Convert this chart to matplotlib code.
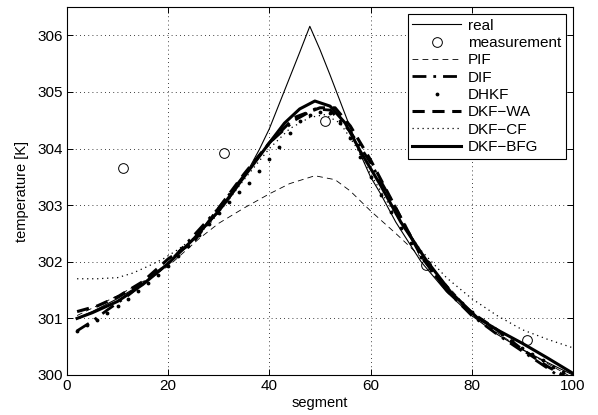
"""
Temperature estimates along the segment: true profile, measurements and
several distributed filtering schemes.
"""

import matplotlib

matplotlib.use("Agg")
import matplotlib.pyplot as plt
import numpy as np

# real temperature profile
real_x = [2, 5, 10, 15, 20, 25, 28, 30, 32, 34, 36, 38, 40, 42, 44, 46, 48, 50, 52, 55,
          58, 60, 62, 65, 70, 75, 80, 85, 90, 95, 100]
real_y = [301.0, 301.12, 301.35, 301.62, 301.95, 302.4, 302.68, 302.88, 303.1, 303.35,
          303.65, 303.98, 304.35, 304.8, 305.25, 305.7, 306.16, 305.75, 305.3, 304.6,
          303.9, 303.5, 303.2, 302.7, 302.0, 301.47, 301.05, 300.72, 300.45, 300.22, 300.0]

# measurements
meas_x = [11, 31, 51, 71, 91]
meas_y = [303.66, 303.92, 304.48, 301.95, 300.61]

# PIF
pif_x = [2, 10, 15, 20, 26, 30, 35, 40, 44, 49, 53, 56, 60, 65, 70, 75, 80, 85, 90, 95, 100]
pif_y = [301.05, 301.4, 301.65, 301.92, 302.4, 302.68, 302.95, 303.2, 303.38, 303.52,
         303.45, 303.25, 302.9, 302.5, 302.08, 301.6, 301.1, 300.75, 300.45, 300.2, 299.95]

# DIF
dif_x = [2, 5, 8, 12, 20, 30, 40, 45, 49, 52, 56, 60, 65, 70, 75, 80, 85, 90, 95, 100]
dif_y = [300.78, 300.95, 301.15, 301.4, 301.97, 302.95, 304.1, 304.5, 304.7, 304.68,
         304.3, 303.75, 302.95, 302.1, 301.5, 301.05, 300.72, 300.42, 300.12, 299.8]

# DHKF (one estimate every second segment)
dhkf_x = list(range(2, 101, 2))
dhkf_y = [300.78, 300.88, 300.98, 301.1, 301.22, 301.35, 301.48, 301.62, 301.77, 301.93,
          302.1, 302.28, 302.47, 302.67, 302.87, 303.05, 303.23, 303.4, 303.6, 303.81,
          304.02, 304.27, 304.48, 304.6, 304.65, 304.62, 304.45, 304.18, 303.85, 303.5,
          303.18, 302.88, 302.6, 302.33, 302.08, 301.85, 301.65, 301.45, 301.28, 301.12,
          300.98, 300.85, 300.72, 300.6, 300.48, 300.37, 300.26, 300.15, 300.05, 299.95]

# DKF-WA
wa_x = [2, 6, 10, 15, 20, 25, 30, 35, 40, 45, 50, 53, 56, 60, 65, 70, 75, 80, 85, 90, 95, 100]
wa_y = [301.12, 301.22, 301.38, 301.65, 302.05, 302.35, 302.95, 303.55, 304.1, 304.55,
        304.72, 304.72, 304.4, 303.8, 302.95, 302.1, 301.5, 301.1, 300.8, 300.45, 300.15, 299.9]

# DKF-CF
cf_x = [2, 6, 10, 13, 16, 19, 22, 25, 28, 31, 35, 40, 44, 48, 51, 54, 57, 60, 63, 66, 70,
        75, 80, 85, 90, 95, 100]
cf_y = [301.7, 301.7, 301.72, 301.8, 301.92, 302.05, 302.22, 302.42, 302.65, 302.98,
        303.45, 304.0, 304.35, 304.55, 304.6, 304.45, 304.05, 303.55, 303.1, 302.7, 302.2,
        301.72, 301.35, 301.05, 300.8, 300.63, 300.48]

# DKF-BFG
bfg_x = [2, 5, 10, 15, 20, 25, 30, 35, 40, 43, 46, 49, 52, 55, 58, 62, 66, 71, 76, 81, 85,
         90, 95, 100]
bfg_y = [301.0, 301.1, 301.3, 301.6, 301.97, 302.4, 302.9, 303.5, 304.1, 304.45, 304.7,
         304.84, 304.75, 304.45, 303.95, 303.35, 302.7, 302.03, 301.45, 301.02, 300.8,
         300.56, 300.3, 300.03]


def main() -> None:
    plt.rcParams.update(
        {
            "font.family": ["Liberation Sans", "DejaVu Sans"],
            "font.size": 11,
            "xtick.direction": "in",
            "ytick.direction": "in",
            "xtick.top": True,
            "ytick.right": True,
            "axes.linewidth": 0.8,
        }
    )

    fig = plt.figure(figsize=(5.98, 4.15), dpi=100)
    ax = fig.add_axes([0.112, 0.0964, 0.846, 0.8866])

    ax.plot(real_x, real_y, "-", color="k", lw=0.8, label="real")
    ax.plot(meas_x, meas_y, "o", mfc="none", mec="k", ms=7, mew=0.7, label="measurement")
    ax.plot(pif_x, pif_y, color="k", lw=0.6, ls=(0, (7, 5)), label="PIF")
    ax.plot(dif_x, dif_y, color="k", lw=2.0, ls=(0, (5, 2.5, 1, 2.5)), label="DIF")
    ax.plot(dhkf_x, dhkf_y, ".", color="k", ms=3.5, label="DHKF")
    ax.plot(wa_x, wa_y, color="k", lw=2.2, ls=(0, (4, 2.5)), label="DKF\u2212WA")
    ax.plot(cf_x, cf_y, color="k", lw=0.9, ls=(0, (1, 3)), label="DKF\u2212CF")
    ax.plot(bfg_x, bfg_y, "-", color="k", lw=2.2, label="DKF\u2212BFG")

    ax.set_xlim(0, 100)
    ax.set_ylim(300, 306.5)
    ax.set_xticks(np.arange(0, 101, 20))
    ax.set_yticks(np.arange(300, 307, 1))
    ax.grid(True, color="k", lw=0.6, ls=(0, (1, 4)))
    ax.tick_params(length=4, width=0.7, labelsize=11, pad=3)
    ax.set_xlabel("segment", fontsize=10.5, labelpad=2)
    ax.set_ylabel("temperature [K]", fontsize=10.5, labelpad=6)

    leg = ax.legend(
        loc="upper right",
        fontsize=11,
        handlelength=3.2,
        labelspacing=0.22,
        borderaxespad=0.45,
        borderpad=0.3,
        handletextpad=0.45,
        fancybox=False,
        framealpha=1.0,
        edgecolor="k",
    )
    leg.get_frame().set_linewidth(0.8)

    fig.savefig("out.png", dpi=100)
    plt.close(fig)


if __name__ == "__main__":
    main()
